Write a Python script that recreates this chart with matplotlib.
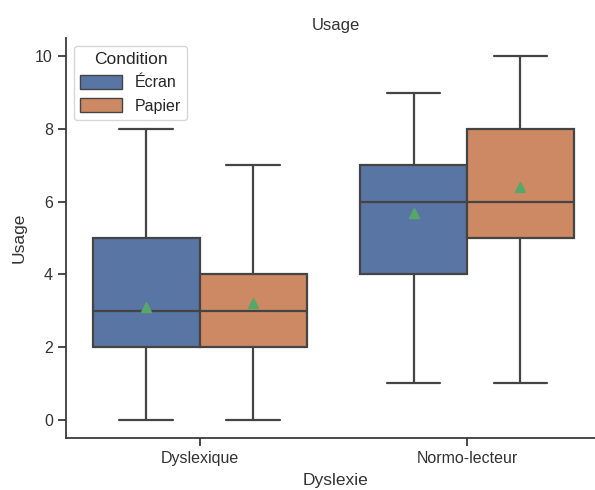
import numpy as np
import matplotlib
matplotlib.use("Agg")
import matplotlib.pyplot as plt
import matplotlib.patches as mpatches
import seaborn as sns

# Data
groups = ['Dyslexique', 'Normo-lecteur']
conditions = ['Écran', 'Papier']
whislo = [[0, 0], [1, 1]]
q1 = [[2, 2], [4, 5]]
med = [[3, 3], [6, 6]]
q3 = [[5, 4], [7, 8]]
whishi = [[8, 7], [9, 10]]
means = [[3.1, 3.2], [5.7, 6.4]]

sns.set_style('ticks')
plt.rcParams['font.family'] = ['Liberation Sans', 'DejaVu Sans']

colors = [sns.desaturate(c, 0.75) for c in ['#4C72B0', '#DD8452']]
line_col = '#444444'

fig = plt.figure(figsize=(5.95, 4.9), dpi=100)
ax = fig.add_axes([66 / 595, 52 / 490, 540 / 595, 400 / 490])

width = 0.4
for i, g in enumerate(groups):
    for j, c in enumerate(conditions):
        stats = [{'whislo': whislo[i][j], 'q1': q1[i][j], 'med': med[i][j],
                  'q3': q3[i][j], 'whishi': whishi[i][j], 'mean': means[i][j],
                  'fliers': []}]
        pos = i + (j - 0.5) * width
        ax.bxp(stats, positions=[pos], widths=width, patch_artist=True,
               showmeans=True, showcaps=True, manage_ticks=False,
               boxprops=dict(facecolor=colors[j], edgecolor=line_col, linewidth=1.6),
               medianprops=dict(color=line_col, linewidth=1.6),
               whiskerprops=dict(color=line_col, linewidth=1.6),
               capprops=dict(color=line_col, linewidth=1.6),
               meanprops=dict(marker='^', markerfacecolor='#55A868',
                              markeredgecolor='#55A868', markersize=7))

ax.set_xlim(-0.5, 1.52)
ax.set_ylim(-0.5, 10.5)
ax.set_xticks(range(len(groups)))
ax.set_xticklabels(groups)
ax.set_yticks([0, 2, 4, 6, 8, 10])
ax.tick_params(labelsize=11.5, colors='#333333', labelcolor='#333333',
               length=6, width=1.25)
ax.set_xlabel('Dyslexie', fontsize=12.5, color='#333333', labelpad=5)
ax.set_ylabel('Usage', fontsize=12.5, color='#333333', labelpad=6)
ax.set_title('Usage', fontsize=12, color='#333333', pad=6)
for s in ['left', 'bottom']:
    ax.spines[s].set_color('#333333')
    ax.spines[s].set_linewidth(1.25)
sns.despine(ax=ax)

handles = [mpatches.Patch(facecolor=colors[j], edgecolor=line_col, label=c)
           for j, c in enumerate(conditions)]
leg = ax.legend(handles=handles, title='Condition', loc='upper left',
                fontsize=11.5, title_fontsize=12.5, handlelength=2.6,
                handleheight=0.9, borderaxespad=0.5)

fig.savefig('out.png', dpi=100)
